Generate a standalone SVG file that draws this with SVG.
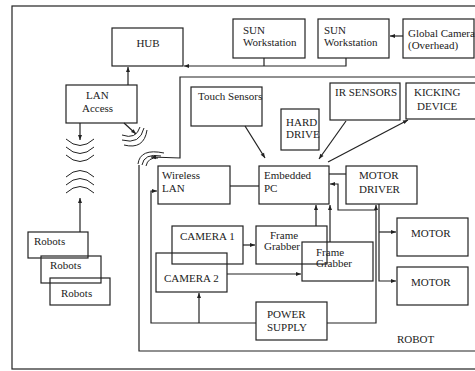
<svg xmlns="http://www.w3.org/2000/svg" width="475" height="371" viewBox="0 0 475 371">
<defs>
<marker id="ah" viewBox="0 0 10 10" refX="10" refY="5" markerWidth="6" markerHeight="5" markerUnits="userSpaceOnUse" orient="auto"><path d="M0,1 L10,5 L0,9 z" fill="#222"/></marker>
<style>
rect.b{fill:none;stroke:#222;stroke-width:1.2}
.c path,.c line,.c polyline{fill:none;stroke:#222;stroke-width:1.2}
.w path{fill:none;stroke:#222;stroke-width:1}
text{font-family:"Liberation Serif","Times New Roman",serif;font-size:11px;fill:#222}
</style>
</defs>
<rect width="475" height="371" fill="#fff"/>
<rect x="12" y="6" width="475" height="363" fill="none" stroke="#222" stroke-width="1.2"/>

<g id="hub"><rect class="b" x="112" y="28" width="71" height="38"/><text x="148" y="47" text-anchor="middle">HUB</text></g>
<g id="lan-access"><rect class="b" x="66" y="85" width="71" height="38"/><text x="86" y="99">LAN</text><text x="82" y="112">Access</text></g>
<g id="sun1"><rect class="b" x="233" y="19" width="72" height="39"/><text x="243" y="34">SUN</text><text x="243" y="46">Workstation</text></g>
<g id="sun2"><rect class="b" x="318" y="19" width="71" height="39"/><text x="324" y="34">SUN</text><text x="324" y="46">Workstation</text></g>
<g id="global-camera"><rect class="b" x="403" y="19" width="71" height="39"/><text x="408" y="37">Global Camera</text><text x="408" y="49">(Overhead)</text></g>
<g id="touch-sensors"><rect class="b" x="191" y="87" width="71" height="39"/><text x="198" y="100">Touch Sensors</text></g>
<g id="hard-drive"><rect class="b" x="281" y="109" width="38" height="41"/><text x="286" y="126">HARD</text><text x="286" y="138">DRIVE</text></g>
<g id="ir-sensors"><rect class="b" x="330" y="83" width="70" height="37"/><text x="335" y="96">IR SENSORS</text></g>
<g id="kicking-device"><rect class="b" x="406" y="83" width="75" height="36"/><text x="414" y="96">KICKING</text><text x="417" y="110">DEVICE</text></g>
<g id="wireless-lan"><rect class="b" x="158" y="166" width="72" height="38"/><text x="162" y="179">Wireless</text><text x="162" y="192">LAN</text></g>
<g id="embedded-pc"><rect class="b" x="259" y="166" width="70" height="38"/><text x="264" y="179">Embedded</text><text x="264" y="192">PC</text></g>
<g id="motor-driver"><rect class="b" x="346" y="166" width="71" height="38"/><text x="359" y="179">MOTOR</text><text x="359" y="193">DRIVER</text></g>
<g id="motor1"><rect class="b" x="397" y="218" width="71" height="38"/><text x="411" y="237">MOTOR</text></g>
<g id="motor2"><rect class="b" x="397" y="267" width="71" height="38"/><text x="411" y="286">MOTOR</text></g>
<g id="camera1"><rect class="b" x="172" y="226" width="71" height="38"/><text x="180" y="240">CAMERA 1</text></g>
<g id="camera2"><rect class="b" x="156" y="253" width="71" height="39"/><text x="164" y="282">CAMERA 2</text></g>
<g id="frame-grabber1"><rect class="b" x="256" y="226" width="71" height="38"/><text x="270" y="239">Frame</text><text x="264" y="250">Grabber</text></g>
<g id="frame-grabber2"><rect class="b" x="302" y="242" width="71" height="39"/><text x="316" y="256">Frame</text><text x="316" y="267">Grabber</text></g>
<g id="power-supply"><rect class="b" x="256" y="302" width="71" height="38"/><text x="267" y="318">POWER</text><text x="267" y="331">SUPPLY</text></g>
<g id="robots1"><rect class="b" x="28" y="232" width="60" height="26"/><text x="34" y="245">Robots</text></g>
<g id="robots2"><rect class="b" x="41" y="256" width="60" height="27"/><text x="50" y="269">Robots</text></g>
<g id="robots3"><rect class="b" x="50" y="278" width="60" height="27"/><text x="61" y="297">Robots</text></g>
<g id="robot-label"><text x="397" y="343">ROBOT</text></g>

<g id="connectors" class="c">
<line x1="128" y1="85" x2="128" y2="67" marker-end="url(#ah)"/>
<polyline points="346,58 346,66 184,66" marker-end="url(#ah)"/>
<line x1="264" y1="58" x2="264" y2="66"/>
<line x1="403" y1="36" x2="390" y2="36" marker-end="url(#ah)"/>
<line x1="80" y1="123" x2="80" y2="140" marker-end="url(#ah)"/>
<line x1="80" y1="232" x2="80" y2="198" marker-end="url(#ah)"/>
<line x1="124" y1="123" x2="136" y2="134" marker-end="url(#ah)"/>
<polyline points="475,77 180,77 180,158 151,157" marker-end="url(#ah)"/>
<polyline points="139,165 139,351 475,351"/>
<line x1="230" y1="186" x2="259" y2="186"/>
<line x1="329" y1="174" x2="346" y2="174"/>
<line x1="245" y1="126" x2="265" y2="158" marker-end="url(#ah)"/>
<line x1="346" y1="121" x2="319" y2="159" marker-end="url(#ah)"/>
<line x1="328" y1="162" x2="408" y2="120" marker-end="url(#ah)"/>
<line x1="316" y1="226" x2="316" y2="205" marker-end="url(#ah)"/>
<line x1="330" y1="242" x2="330" y2="205" marker-end="url(#ah)"/>
<polyline points="376,210 338,210 338,184 330,184" marker-end="url(#ah)"/>
<polyline points="327,323 376,323 376,205" marker-end="url(#ah)"/>
<polyline points="379,204 379,281 396,281" marker-end="url(#ah)"/>
<line x1="379" y1="232" x2="396" y2="232" marker-end="url(#ah)"/>
<line x1="243" y1="245" x2="255" y2="245" marker-end="url(#ah)"/>
<line x1="227" y1="274" x2="301" y2="274" marker-end="url(#ah)"/>
<polyline points="256,323 151,323 151,191 157,191" marker-end="url(#ah)"/>
<line x1="199" y1="323" x2="199" y2="293" marker-end="url(#ah)"/>
</g>

<g id="waves" class="w">
<path d="M66,139 Q80,152 94,139"/>
<path d="M66,147 Q80,160 94,147"/>
<path d="M66,155 Q80,168 94,155"/>
<path d="M66,177 Q80,164 94,177"/>
<path d="M66,185 Q80,172 94,185"/>
<path d="M66,193 Q80,180 94,193"/>
<path d="M122,135 Q136,140 140,127"/>
<path d="M122,140 Q140,145 144,128"/>
<path d="M124,145 Q144,150 147,130"/>
<path d="M138,164 Q140,148 164,153"/>
<path d="M142,165 Q144,153 161,156"/>
<path d="M146,166 Q148,157 158,158"/>
</g>
</svg>
